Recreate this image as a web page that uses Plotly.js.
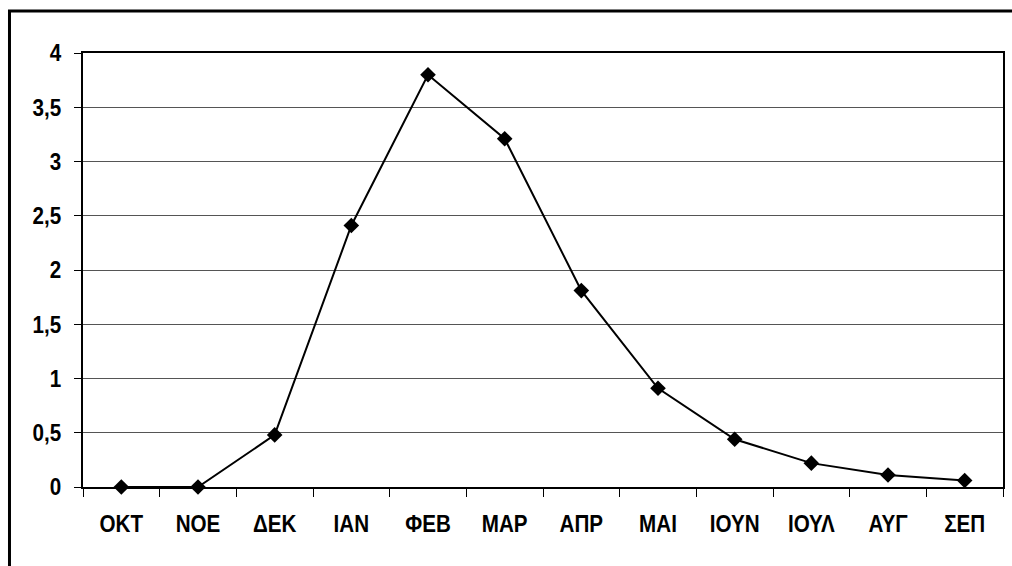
<!DOCTYPE html>
<html>
<head>
<meta charset="utf-8">
<script src="https://cdn.plot.ly/plotly-3.0.1.min.js"></script>
<style>html,body{margin:0;padding:0;background:#fff}#chart{width:1012px;height:566px}</style>
</head>
<body>
<div id="chart"></div>
<script>
const months = ["ΟΚΤ","ΝΟΕ","ΔΕΚ","ΙΑΝ","ΦΕΒ","ΜΑΡ","ΑΠΡ","ΜΑΙ","ΙΟΥΝ","ΙΟΥΛ","ΑΥΓ","ΣΕΠ"];
const values = [0, 0, 0.48, 2.41, 3.80, 3.21, 1.81, 0.91, 0.44, 0.22, 0.11, 0.06];
const yTicks = [0, 0.5, 1, 1.5, 2, 2.5, 3, 3.5, 4];

const fam = '"Liberation Sans Narrow", "Arial Narrow", "Liberation Sans", Arial, sans-serif';
const tf = {family: fam, size: 24, color: '#000', weight: 'bold'};

const trace = {
  x: months, y: values, type: 'scatter', mode: 'lines+markers',
  line: {color: '#000', width: 2},
  marker: {symbol: 'diamond', size: 12, color: '#000'},
  cliponaxis: false, hoverinfo: 'none'
};

const layout = {
  width: 1012, height: 566,
  margin: {l: 83, r: 9, t: 53, b: 79, pad: 0},
  separators: ',.',
  paper_bgcolor: '#fff', plot_bgcolor: '#fff',
  showlegend: false,
  font: tf,
  xaxis: {
    type: 'category', tickson: 'boundaries', ticks: 'outside', ticklen: 8, tickwidth: 1, tickcolor: '#000',
    showline: true, linecolor: '#000', linewidth: 2, mirror: true,
    showgrid: false, zeroline: false, range: [-0.5, 11.5],
    tickfont: tf,
    ticklabelstandoff: 14
  },
  yaxis: {
    range: [0, 4], tickvals: yTicks, ticks: 'outside', ticklen: 7, tickwidth: 1, tickcolor: '#000',
    showline: true, linecolor: '#000', linewidth: 2, mirror: true,
    showgrid: true, gridcolor: '#555', gridwidth: 1, zeroline: false,
    tickfont: tf,
    ticklabelstandoff: 8
  },
  shapes: [{
    type: 'path', xref: 'paper', yref: 'paper',
    path: 'M -0.0799,-0.3 L -0.0799,1.0968 L 1.1,1.0968',
    line: {color: '#000', width: 3}
  }]
};

function narrow() {
  // If Liberation Sans Narrow is missing, compress the regular bold text horizontally
  const probe = document.createElement('canvas').getContext('2d');
  probe.font = 'bold 24px "Liberation Sans Narrow", "Liberation Sans"';
  const wN = probe.measureText('MMMMMMMM').width;
  probe.font = 'bold 24px "Liberation Sans"';
  const wR = probe.measureText('MMMMMMMM').width;
  const k = (wN / wR > 0.95) ? 0.86 : 1;
  if (k === 1) return;
  document.querySelectorAll('.xtick text, .ytick text').forEach(el => {
    const x = parseFloat(el.getAttribute('x')) || 0;
    const t = el.getAttribute('transform') || '';
    el.setAttribute('transform', t + ' translate(' + x + ',0) scale(' + k + ',1) translate(' + (-x) + ',0)');
  });
}

Plotly.newPlot('chart', [trace], layout, {staticPlot: true}).then(narrow);
</script>
</body>
</html>
